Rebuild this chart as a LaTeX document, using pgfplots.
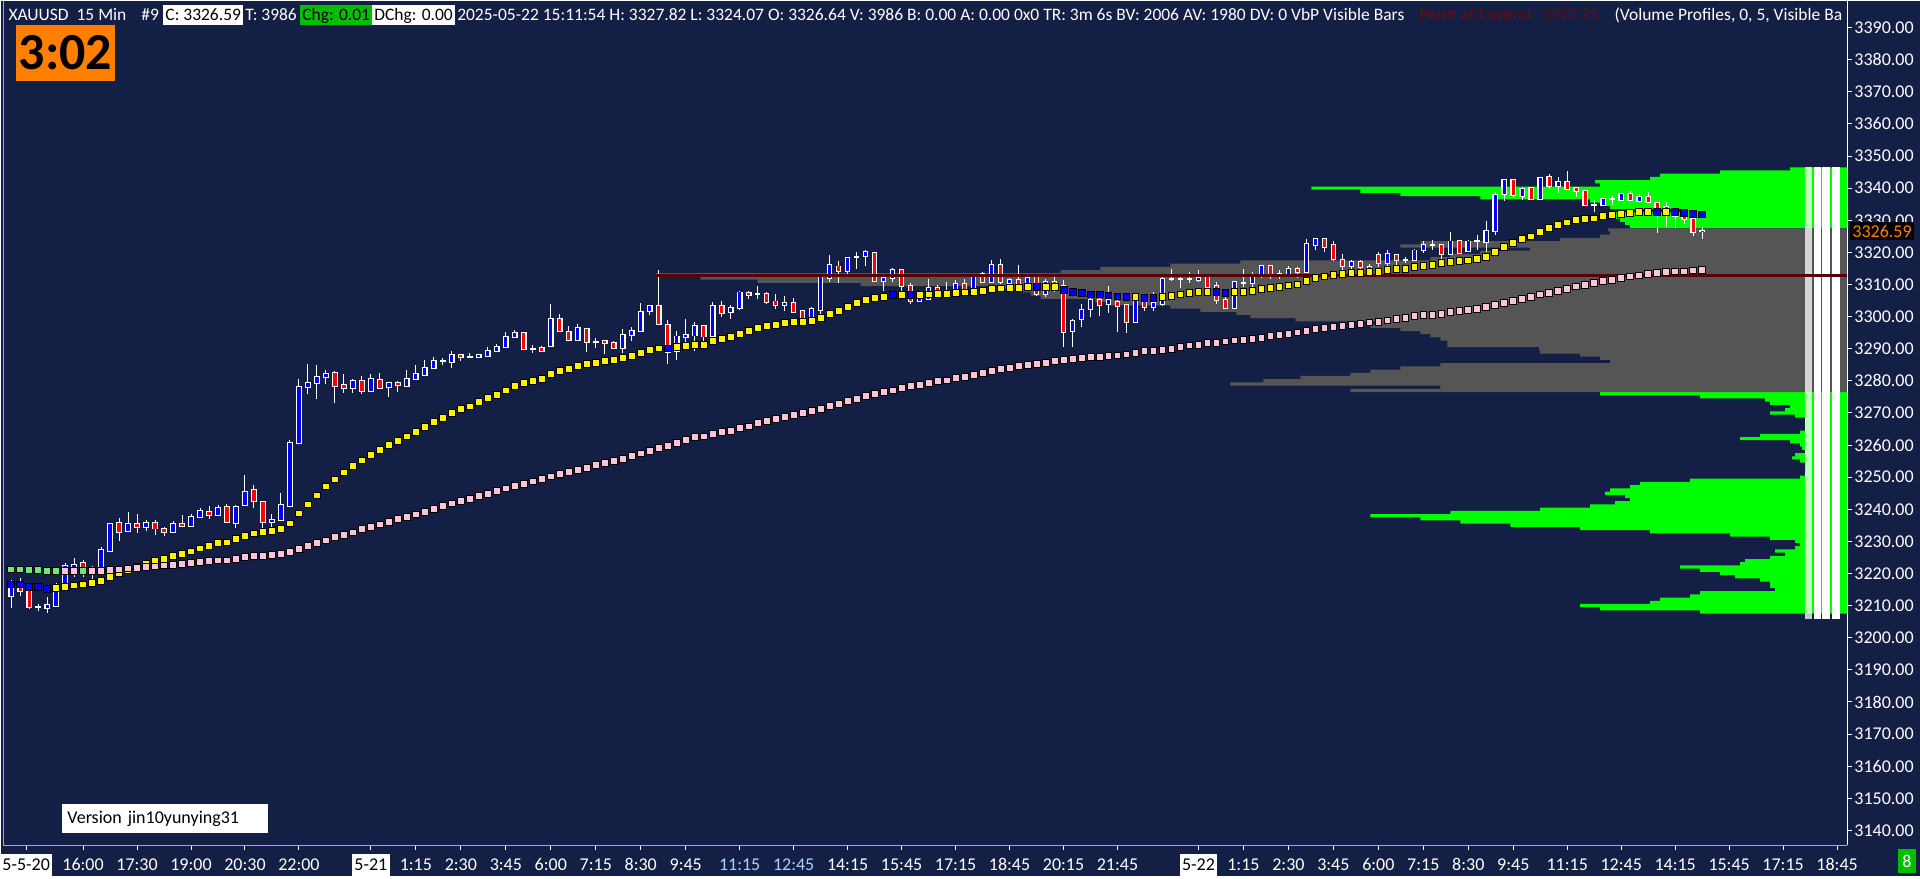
\documentclass[border=0pt]{standalone}
\usepackage{fontspec}
\setmainfont{Carlito}
\usepackage{graphicx}
\usepackage{pgfplots}
\usepackage{pgfplotstable}
\pgfplotsset{compat=1.18}

\definecolor{navy}{RGB}{20,31,69}
\definecolor{vpgreen}{RGB}{0,255,0}
\definecolor{vpgray}{RGB}{85,85,85}
\definecolor{poc}{RGB}{90,0,0}
\definecolor{pocText}{RGB}{100,10,10}
\definecolor{candleblue}{RGB}{0,0,255}
\definecolor{candlered}{RGB}{255,0,0}
\definecolor{mapink}{RGB}{255,195,215}
\definecolor{magreen}{RGB}{110,230,120}
\definecolor{mablue}{RGB}{0,0,235}
\definecolor{tagorange}{RGB}{255,128,0}
\definecolor{chggreen}{RGB}{0,190,0}
\definecolor{axisgray}{RGB}{170,170,170}
\definecolor{lightblue}{RGB}{170,210,255}

% bars: index, open, high, low, close (15 min)
\pgfplotstableread{
i o h l c
0 3213.0 3217.9 3209.3 3217.4
1 3216.3 3218.7 3213.0 3214.6
2 3214.8 3215.0 3208.8 3209.6
3 3209.6 3210.6 3208.3 3209.6
4 3209.3 3212.7 3207.7 3210.1
5 3210.0 3216.9 3210.0 3215.0
6 3214.8 3223.4 3214.6 3222.2
7 3221.8 3224.9 3218.9 3222.6
8 3223.2 3224.1 3218.9 3221.5
9 3221.8 3222.2 3217.9 3221.8
10 3221.8 3228.1 3221.8 3227.4
11 3227.0 3235.7 3227.0 3235.5
12 3235.8 3237.4 3230.1 3233.0
13 3233.3 3239.1 3232.8 3235.5
14 3235.5 3238.4 3232.6 3234.5
15 3234.6 3236.6 3233.2 3235.8
16 3235.8 3236.6 3232.0 3234.0
17 3233.9 3234.5 3231.7 3233.0
18 3232.9 3236.3 3232.6 3235.5
19 3235.5 3238.1 3234.9 3234.9
20 3234.9 3238.4 3234.9 3237.6
21 3237.6 3240.5 3237.3 3239.6
22 3239.2 3240.9 3237.0 3238.3
23 3238.1 3241.3 3237.9 3240.5
24 3240.7 3241.8 3235.7 3236.0
25 3235.8 3241.2 3234.3 3240.7
26 3241.4 3250.6 3241.0 3245.5
27 3246.1 3247.5 3240.5 3242.5
28 3242.3 3242.3 3233.5 3236.0
29 3236.0 3238.6 3234.5 3236.8
30 3236.6 3245.2 3236.6 3241.2
31 3241.0 3261.5 3241.0 3260.7
32 3260.6 3280.7 3260.6 3278.2
33 3278.1 3285.3 3275.8 3279.4
34 3279.3 3284.8 3274.2 3281.3
35 3281.3 3283.5 3278.9 3282.0
36 3282.3 3283.0 3273.1 3278.4
37 3278.8 3282.0 3276.2 3277.9
38 3277.9 3280.6 3276.2 3280.0
39 3280.1 3281.4 3276.0 3276.9
40 3276.9 3282.0 3276.9 3280.7
41 3280.3 3282.4 3277.9 3277.9
42 3278.1 3279.4 3274.9 3279.4
43 3279.4 3280.1 3276.5 3278.6
44 3278.4 3283.3 3278.4 3280.7
45 3280.6 3284.8 3280.3 3282.0
46 3281.9 3286.4 3281.9 3284.1
47 3284.1 3287.4 3284.1 3286.2
48 3286.2 3287.2 3284.8 3286.2
49 3285.8 3289.3 3284.0 3287.9
50 3287.9 3288.2 3286.1 3287.3
51 3287.3 3288.7 3287.3 3287.3
52 3287.3 3288.4 3287.3 3287.9
53 3287.8 3290.5 3287.6 3289.3
54 3289.3 3291.5 3289.0 3290.6
55 3290.5 3295.1 3290.5 3293.8
56 3293.6 3295.7 3293.2 3295.0
57 3295.0 3295.0 3289.9 3289.9
58 3290.0 3291.3 3288.8 3290.0
59 3290.1 3290.7 3289.4 3289.4
60 3290.8 3303.8 3290.8 3299.3
61 3299.3 3300.9 3295.2 3295.5
62 3295.3 3297.1 3292.7 3292.7
63 3292.7 3297.8 3292.7 3296.5
64 3296.2 3296.5 3289.0 3292.1
65 3292.1 3293.2 3290.1 3292.1
66 3292.5 3292.5 3288.4 3291.8
67 3291.9 3292.3 3290.2 3290.2
68 3290.2 3296.0 3288.7 3294.4
69 3294.3 3296.9 3292.4 3295.4
70 3295.5 3304.2 3295.5 3301.5
71 3301.7 3303.5 3300.4 3303.2
72 3303.2 3314.4 3297.3 3297.6
73 3297.3 3298.8 3285.1 3289.0
74 3289.3 3295.4 3286.4 3293.8
75 3293.6 3299.1 3292.1 3294.3
76 3294.1 3298.2 3289.3 3297.1
77 3297.1 3297.1 3292.4 3293.8
78 3294.0 3304.4 3294.0 3303.4
79 3303.4 3304.7 3299.8 3301.1
80 3301.4 3303.5 3299.2 3302.7
81 3302.7 3308.1 3302.1 3307.5
82 3307.5 3308.1 3305.4 3306.8
83 3307.1 3309.4 3305.4 3307.1
84 3307.1 3307.8 3304.0 3304.5
85 3304.7 3306.9 3302.3 3303.7
86 3303.7 3306.3 3301.7 3304.3
87 3304.3 3305.9 3301.1 3301.4
88 3301.6 3302.1 3299.6 3299.6
89 3299.5 3302.9 3299.3 3302.4
90 3302.1 3313.1 3299.6 3312.5
91 3312.1 3319.3 3310.7 3316.2
92 3315.6 3317.2 3310.4 3314.2
93 3314.2 3318.5 3312.3 3318.3
94 3318.5 3320.0 3314.9 3318.5
95 3318.8 3320.6 3315.9 3320.0
96 3319.7 3319.7 3311.0 3311.0
97 3311.0 3313.1 3307.9 3312.1
98 3312.1 3315.1 3310.7 3314.4
99 3314.4 3314.4 3307.6 3309.5
100 3309.6 3310.6 3304.0 3304.8
101 3304.8 3307.6 3304.4 3306.1
102 3305.4 3311.8 3305.4 3308.8
103 3308.8 3310.0 3306.3 3307.6
104 3307.9 3310.9 3306.3 3307.9
105 3307.9 3311.5 3307.9 3310.2
106 3310.2 3311.8 3307.9 3308.1
107 3308.1 3313.3 3308.1 3313.0
108 3313.3 3313.8 3310.4 3310.7
109 3310.7 3317.5 3310.7 3316.1
110 3316.1 3318.0 3310.2 3310.7
111 3310.4 3312.1 3309.7 3311.5
112 3311.5 3316.2 3309.5 3309.6
113 3309.7 3312.3 3309.2 3312.1
114 3312.3 3312.8 3306.3 3307.1
115 3306.9 3311.8 3306.1 3310.9
116 3310.9 3312.3 3307.6 3309.2
117 3309.4 3311.3 3290.5 3295.2
118 3295.5 3299.3 3290.5 3298.5
119 3299.3 3303.8 3296.9 3302.1
120 3302.3 3306.1 3299.8 3305.2
121 3305.2 3306.1 3300.1 3303.5
122 3304.0 3309.4 3301.1 3305.2
123 3304.7 3306.1 3295.2 3303.3
124 3303.5 3304.0 3294.9 3298.3
125 3298.3 3307.3 3298.0 3306.9
126 3304.8 3305.6 3301.9 3302.9
127 3302.9 3307.6 3301.7 3304.2
128 3303.8 3313.1 3303.2 3311.8
129 3311.7 3314.9 3311.1 3311.7
130 3311.7 3313.1 3309.0 3311.7
131 3311.7 3313.8 3310.6 3311.7
132 3311.5 3314.4 3310.7 3312.1
133 3312.3 3313.3 3309.0 3309.2
134 3309.4 3310.7 3303.8 3305.2
135 3305.2 3306.1 3302.7 3302.7
136 3302.7 3311.1 3302.7 3310.7
137 3310.6 3314.9 3309.2 3310.6
138 3310.4 3313.8 3306.6 3312.8
139 3312.8 3316.2 3312.0 3315.8
140 3315.8 3316.2 3311.8 3312.5
141 3312.6 3314.6 3311.8 3313.3
142 3313.3 3315.6 3313.1 3314.9
143 3314.9 3315.4 3312.1 3313.8
144 3313.8 3324.2 3313.8 3322.5
145 3322.4 3324.6 3320.8 3324.2
146 3324.2 3324.6 3320.1 3321.8
147 3322.2 3323.5 3317.3 3318.0
148 3317.7 3319.4 3314.4 3315.9
149 3315.7 3317.5 3314.4 3317.0
150 3317.0 3317.5 3314.4 3315.4
151 3315.6 3316.4 3313.8 3314.8
152 3319.2 3320.1 3315.6 3316.7
153 3316.7 3320.9 3314.9 3319.4
154 3319.2 3319.6 3315.9 3317.7
155 3317.7 3318.7 3316.7 3317.7
156 3317.7 3321.1 3317.5 3320.6
157 3320.8 3323.5 3319.8 3322.2
158 3322.2 3323.9 3320.6 3322.2
159 3322.2 3322.4 3317.0 3319.6
160 3319.6 3326.3 3319.6 3323.4
161 3323.4 3323.9 3319.6 3319.8
162 3320.3 3323.7 3320.1 3323.4
163 3323.4 3325.3 3320.8 3323.4
164 3323.2 3329.7 3320.1 3326.8
165 3326.8 3338.8 3325.3 3337.9
166 3338.2 3342.9 3336.0 3342.6
167 3342.6 3342.9 3337.2 3337.9
168 3337.5 3340.5 3336.4 3339.8
169 3340.1 3340.5 3336.4 3336.7
170 3336.7 3343.4 3336.4 3343.2
171 3343.6 3344.5 3339.8 3340.6
172 3340.6 3343.6 3338.4 3341.9
173 3341.9 3345.3 3339.5 3339.8
174 3340.1 3340.5 3337.4 3339.1
175 3339.1 3339.3 3334.6 3334.8
176 3334.9 3336.2 3332.5 3334.9
177 3334.8 3336.9 3334.6 3336.6
178 3336.5 3337.7 3334.9 3336.5
179 3336.4 3338.4 3336.2 3338.2
180 3338.2 3339.1 3336.2 3336.4
181 3336.0 3338.2 3335.6 3337.2
182 3337.2 3338.8 3335.3 3335.6
183 3335.4 3335.6 3326.0 3333.9
184 3334.0 3335.6 3327.8 3333.6
185 3332.5 3333.6 3327.5 3331.2
186 3331.5 3332.0 3328.7 3330.4
187 3330.4 3331.0 3325.2 3326.2
188 3326.64 3327.82 3324.07 3326.59
}\candles

% moving averages: fast (fb=1 drawn blue), slow (sg=1 drawn green)
\pgfplotstableread{
i f fb s sg
0 3216.6 1 3221.3 1
1 3216.6 1 3221.3 1
2 3215.9 1 3221.0 1
3 3215.8 1 3221.0 1
4 3215.3 1 3220.8 1
5 3215.5 0 3220.8 1
6 3215.8 0 3220.8 0
7 3216.3 0 3220.8 0
8 3216.6 0 3220.8 1
9 3217.1 0 3220.8 0
10 3217.7 0 3220.8 0
11 3218.9 0 3221.0 0
12 3220.0 0 3221.3 0
13 3221.0 0 3221.6 0
14 3222.2 0 3221.8 0
15 3223.1 0 3222.0 0
16 3223.9 0 3222.2 0
17 3224.5 0 3222.5 0
18 3225.4 0 3222.7 0
19 3226.1 0 3223.1 0
20 3226.9 0 3223.4 0
21 3227.8 0 3223.7 0
22 3228.5 0 3223.9 0
23 3229.5 0 3224.1 0
24 3229.7 0 3224.1 0
25 3230.8 0 3224.5 0
26 3231.6 0 3225.1 0
27 3232.5 0 3225.4 0
28 3232.9 0 3225.4 0
29 3233.2 0 3225.7 0
30 3233.8 0 3226.0 0
31 3235.6 0 3226.6 0
32 3238.7 0 3227.6 0
33 3241.5 0 3228.6 0
34 3244.3 0 3229.5 0
35 3247.1 0 3230.3 0
36 3249.3 0 3231.3 0
37 3251.5 0 3232.0 0
38 3253.4 0 3232.8 0
39 3255.2 0 3233.8 0
40 3256.9 0 3234.5 0
41 3258.5 0 3235.3 0
42 3260.0 0 3236.0 0
43 3261.3 0 3236.9 0
44 3262.7 0 3237.6 0
45 3264.1 0 3238.4 0
46 3265.6 0 3239.2 0
47 3267.1 0 3240.0 0
48 3268.4 0 3241.0 0
49 3270.0 0 3241.8 0
50 3271.2 0 3242.6 0
51 3272.0 0 3243.3 0
52 3273.4 0 3244.1 0
53 3274.6 0 3244.9 0
54 3275.6 0 3245.7 0
55 3277.0 0 3246.5 0
56 3278.4 0 3247.3 0
57 3279.3 0 3248.0 0
58 3279.9 0 3248.7 0
59 3280.5 0 3249.4 0
60 3282.1 0 3250.2 0
61 3283.0 0 3250.9 0
62 3283.7 0 3251.6 0
63 3284.6 0 3252.3 0
64 3285.2 0 3253.0 0
65 3285.5 0 3253.7 0
66 3286.1 0 3254.4 0
67 3286.4 0 3255.1 0
68 3287.1 0 3255.8 0
69 3287.7 0 3256.6 0
70 3288.6 0 3257.4 0
71 3289.6 0 3258.2 0
72 3290.1 0 3259.0 0
73 3290.1 1 3259.8 0
74 3290.5 0 3260.6 0
75 3290.8 0 3261.5 0
76 3291.1 0 3262.5 0
77 3291.3 0 3262.7 0
78 3292.5 0 3263.5 0
79 3293.0 0 3264.1 0
80 3293.6 0 3264.4 0
81 3294.6 0 3265.4 0
82 3295.5 0 3265.8 0
83 3296.4 0 3266.9 0
84 3297.0 0 3267.4 0
85 3297.4 0 3268.1 0
86 3298.0 0 3268.7 0
87 3298.3 0 3269.4 0
88 3298.3 0 3270.0 0
89 3298.6 0 3270.6 0
90 3299.5 0 3271.2 0
91 3300.8 0 3272.1 0
92 3301.7 0 3272.9 0
93 3302.9 0 3273.8 0
94 3304.2 0 3274.3 0
95 3305.1 0 3275.3 0
96 3305.8 0 3275.9 0
97 3306.1 0 3276.5 0
98 3306.7 1 3277.0 0
99 3306.8 0 3277.7 0
100 3306.7 1 3278.4 0
101 3306.7 0 3278.7 0
102 3306.9 0 3279.3 0
103 3307.1 0 3279.9 0
104 3307.1 0 3280.1 0
105 3307.4 0 3280.8 0
106 3307.5 0 3281.2 0
107 3307.7 0 3281.8 0
108 3307.9 0 3282.4 0
109 3308.6 0 3283.0 0
110 3308.8 0 3283.6 0
111 3308.9 0 3284.0 0
112 3308.9 0 3284.6 0
113 3309.2 0 3284.9 0
114 3309.2 1 3285.2 0
115 3309.2 0 3285.7 0
116 3309.2 0 3286.1 0
117 3308.4 1 3286.6 0
118 3307.6 1 3286.7 0
119 3307.3 1 3287.1 0
120 3306.9 1 3287.4 0
121 3306.9 1 3287.4 0
122 3306.6 1 3287.7 0
123 3306.3 1 3287.9 0
124 3306.1 1 3288.2 0
125 3306.1 0 3288.8 0
126 3305.8 1 3289.2 0
127 3305.8 1 3289.3 0
128 3306.1 0 3289.7 0
129 3306.4 0 3290.0 0
130 3306.9 0 3290.5 0
131 3307.3 0 3291.0 0
132 3307.6 0 3291.3 0
133 3307.6 0 3291.8 0
134 3307.6 1 3291.9 0
135 3307.3 1 3292.3 0
136 3307.6 0 3292.6 0
137 3307.6 0 3292.8 0
138 3308.1 0 3293.1 0
139 3308.5 0 3293.4 0
140 3308.9 0 3293.9 0
141 3309.2 0 3294.2 0
142 3309.7 0 3294.7 0
143 3310.0 0 3295.1 0
144 3311.0 0 3295.5 0
145 3312.0 0 3296.2 0
146 3312.5 0 3296.5 0
147 3312.9 0 3296.9 0
148 3313.3 0 3297.2 0
149 3313.5 0 3297.5 0
150 3313.5 0 3297.8 0
151 3313.8 0 3298.2 0
152 3313.8 0 3298.3 0
153 3314.6 0 3298.8 0
154 3314.8 0 3299.2 0
155 3314.8 0 3299.6 0
156 3315.4 0 3300.1 0
157 3315.7 0 3300.4 0
158 3316.2 0 3300.6 0
159 3316.6 0 3300.9 0
160 3317.0 0 3301.4 0
161 3317.3 0 3301.7 0
162 3317.5 0 3302.1 0
163 3318.0 0 3302.4 0
164 3318.7 0 3303.0 0
165 3320.1 0 3303.6 0
166 3321.6 0 3304.2 0
167 3322.9 0 3304.8 0
168 3324.2 0 3305.4 0
169 3325.0 0 3306.1 0
170 3326.3 0 3306.9 0
171 3327.5 0 3307.3 0
172 3328.5 0 3307.9 0
173 3329.3 0 3308.7 0
174 3330.1 0 3309.4 0
175 3330.4 0 3309.9 0
176 3330.6 0 3310.4 0
177 3331.3 0 3311.0 0
178 3331.7 0 3311.5 0
179 3332.0 0 3312.1 0
180 3332.3 0 3312.5 0
181 3332.7 0 3312.8 0
182 3332.7 0 3313.3 0
183 3332.7 1 3313.5 0
184 3332.7 0 3313.8 0
185 3332.7 1 3314.1 0
186 3332.3 1 3314.1 0
187 3332.0 1 3314.4 0
188 3331.8 1 3314.6 0
}\mas

% volume profile: price, length of the bar, k=1 inside value area
\pgfplotstableread{
p v k
3208 147 0
3209 247 0
3210 267 0
3211 197 0
3212 187 0
3213 157 0
3214 147 0
3215 72 0
3216 77 0
3217 77 0
3218 87 0
3219 112 0
3220 127 0
3221 147 0
3222 167 0
3223 107 0
3224 102 0
3225 77 0
3226 62 0
3227 72 0
3228 52 0
3229 47 0
3230 52 0
3231 77 0
3232 117 0
3233 197 0
3234 267 0
3235 337 0
3236 387 0
3237 427 0
3238 477 0
3239 397 0
3240 307 0
3241 257 0
3242 232 0
3243 217 0
3244 222 0
3245 242 0
3246 237 0
3247 217 0
3248 207 0
3249 157 0
3250 47 0
3251 42 0
3252 41 0
3253 41 0
3254 41 0
3255 47 0
3256 55 0
3257 52 0
3258 42 0
3259 45 0
3260 47 0
3261 57 0
3262 107 0
3263 87 0
3264 47 0
3265 42 0
3266 42 0
3267 42 0
3268 42 0
3269 52 0
3270 77 0
3271 62 0
3272 57 0
3273 77 0
3274 82 0
3275 147 0
3276 247 0
3277 497 1
3278 407 1
3279 617 1
3280 584 1
3281 547 1
3282 497 1
3283 477 1
3284 447 1
3285 407 1
3286 237 1
3287 247 1
3288 267 1
3289 307 1
3290 308 1
3291 400 1
3292 400 1
3293 407 1
3294 417 1
3295 427 1
3296 447 1
3297 477 1
3298 467 1
3299 552 1
3300 597 1
3301 611 1
3302 647 1
3303 677 1
3304 737 1
3305 752 1
3306 807 1
3307 817 1
3308 827 1
3309 847 1
3310 987 1
3311 1090 1
3312 1147 1
3313 1192 1
3314 787 1
3315 747 1
3316 677 1
3317 607 1
3318 417 1
3319 397 1
3320 367 1
3321 317 1
3322 447 1
3323 427 1
3324 287 1
3325 247 1
3326 237 1
3327 239 1
3328 217 0
3329 222 0
3330 227 0
3331 232 0
3332 237 0
3333 167 0
3334 237 0
3335 247 0
3336 257 0
3337 367 0
3338 447 0
3339 487 0
3340 536 0
3341 247 0
3342 252 0
3343 197 0
3344 187 0
3345 127 0
3346 57 0
}\profile

\newcommand{\dbox}[1]{{\setlength{\fboxsep}{1.2pt}\colorbox{white}{\textcolor{black}{\strut #1}}}}
\newcommand{\tfont}{\fontsize{9}{10}\selectfont}
\newcommand{\hfont}{\fontsize{8.75}{10}\selectfont}

\begin{document}
\begin{tikzpicture}
\fill[navy] (0,0) rectangle (960pt,438pt);

% volume profile, drawn from the right edge
\begin{axis}[at={(1pt,15.5pt)}, anchor=south west, scale only axis,
  width=922.5pt, height=422.5pt, hide axis,
  x dir=reverse, xmin=0, xmax=1845, ymin=3135.41, ymax=3398.40,
  xbar, bar width=1, bar shift=0pt]
\addplot[fill=vpgreen, draw=none] table[x expr={\thisrow{k}==0 ? \thisrow{v} : 0}, y=p] {\profile};
\addplot[fill=vpgray, draw=none] table[x expr={\thisrow{k}==1 ? \thisrow{v} : 0}, y=p] {\profile};
\fill[white, opacity=0.75] (axis cs:42,3205.8) rectangle (axis cs:35,3346.6);
\fill[white] (axis cs:33,3205.8) rectangle (axis cs:26,3346.6);
\fill[white] (axis cs:25,3205.8) rectangle (axis cs:17,3346.6);
\fill[white] (axis cs:15,3205.8) rectangle (axis cs:7,3346.6);
\end{axis}

\begin{axis}[at={(1pt,15.5pt)}, anchor=south west, scale only axis,
  width=922.5pt, height=422.5pt,
  xmin=-0.889, xmax=204.11, ymin=3135.41, ymax=3398.40,
  axis x line*=bottom, axis y line*=right, axis line style={-},
  x axis line style={axisgray}, y axis line style={white},
  tick align=outside, major tick length=2.5pt,
  tick style={white, line width=0.5pt},
  ytick={3140,3150,...,3390},
  yticklabel={\pgfmathprintnumber[fixed,fixed zerofill,precision=2,1000 sep={},assume math mode=true]{\tick}},
  yticklabel style={font=\tfont, text=white, inner sep=1pt},
  xtick={1.67,8,14,20,26,32,40,45,50,55,60,65,70,75,81,87,93,99,105,111,117,123,132,137,142,147,152,157,162,167,173,179,185,191,197,203},
  xticklabels={\dbox{5-5-20},16:00,17:30,19:00,20:30,22:00,\dbox{5-21},1:15,2:30,3:45,6:00,7:15,8:30,9:45,\textcolor{lightblue}{11:15},\textcolor{lightblue}{12:45},14:15,15:45,17:15,18:45,20:15,21:45,\dbox{5-22},1:15,2:30,3:45,6:00,7:15,8:30,9:45,11:15,12:45,14:15,15:45,17:15,18:45},
  xticklabel style={font=\tfont, text=white, anchor=base, yshift=-10pt, inner sep=0pt}]

% candle wicks
\addplot[draw=none, forget plot, error bars/.cd, y dir=both, y explicit, error mark=none,
  error bar style={draw=white, line width=0.5pt}]
  table[x=i, y expr={(\thisrow{h}+\thisrow{l})/2}, y error expr={(\thisrow{h}-\thisrow{l})/2}] {\candles};
% body outline
\addplot[draw=none, forget plot, error bars/.cd, y dir=both, y explicit, error mark=none,
  error bar style={draw=white, line width=2.8pt}]
  table[x=i, y expr={(\thisrow{o}+\thisrow{c})/2}, y error expr={abs(\thisrow{c}-\thisrow{o})/2+0.3}] {\candles};
% rising bodies
\addplot[draw=none, forget plot, error bars/.cd, y dir=both, y explicit, error mark=none,
  error bar style={draw=candleblue, line width=1.6pt}]
  table[x=i, y expr={\thisrow{c}>=\thisrow{o} ? (\thisrow{o}+\thisrow{c})/2 : 5000}, y error expr={abs(\thisrow{c}-\thisrow{o})/2}] {\candles};
% falling bodies
\addplot[draw=none, forget plot, error bars/.cd, y dir=both, y explicit, error mark=none,
  error bar style={draw=candlered, line width=1.6pt}]
  table[x=i, y expr={\thisrow{c}<\thisrow{o} ? (\thisrow{o}+\thisrow{c})/2 : 5000}, y error expr={abs(\thisrow{c}-\thisrow{o})/2}] {\candles};

% point of control
\addplot[poc, line width=1.5pt] coordinates {(71.6,3312.75) (204.2,3312.75)};

% moving averages
\addplot[only marks, mark=square*, mark size=1.7pt, mark options={draw=none, fill=yellow}]
  table[x=i, y expr={\thisrow{fb}==0 ? \thisrow{f} : 5000}] {\mas};
\addplot[only marks, mark=square*, mark size=1.7pt, mark options={draw=none, fill=mablue}]
  table[x=i, y expr={\thisrow{fb}==1 ? \thisrow{f} : 5000}] {\mas};
\addplot[only marks, mark=square*, mark size=1.7pt, mark options={draw=none, fill=mapink}]
  table[x=i, y expr={\thisrow{sg}==0 ? \thisrow{s} : 5000}] {\mas};
\addplot[only marks, mark=square*, mark size=1.7pt, mark options={draw=none, fill=magreen}]
  table[x=i, y expr={\thisrow{sg}==1 ? \thisrow{s} : 5000}] {\mas};

\coordinate (tag) at (axis cs:204.11,3326.59);
\end{axis}

\node[fill=black, text=tagorange, font=\tfont, inner xsep=1pt, inner ysep=1.5pt, anchor=west] at ([xshift=1.5pt]tag) {3326.59};
\draw[axisgray, line width=0.6pt] (1pt,15.5pt) -- (1pt,438pt);

% header and labels, positioned in pixels from the top left
\begin{scope}[x=0.5pt, y=-0.5pt, shift={(0pt,438pt)}, font=\hfont]
\node[anchor=base west, text=white, inner sep=0pt] at (7,20) {XAUUSD\ \ 15 Min};
\node[anchor=base west, text=white, inner sep=0pt] at (140,20) {\#9};
\node[anchor=base west, fill=white, text=black, inner xsep=1pt, inner ysep=2pt, text height=5.8pt, text depth=0.4pt] at (162,20) {C: 3326.59};
\node[anchor=base west, text=white, inner sep=0pt] at (244,20) {T: 3986};
\node[anchor=base west, fill=chggreen, text=black, inner xsep=1pt, inner ysep=2pt, text height=5.8pt, text depth=0.4pt] at (299,20) {Chg: 0.01};
\node[anchor=base west, fill=white, text=black, inner xsep=1pt, inner ysep=2pt, text height=5.8pt, text depth=0.4pt] at (371,20) {DChg: 0.00};
\node[anchor=base west, text=white, inner sep=0pt] at (456,20) {2025-05-22 15:11:54 H: 3327.82 L: 3324.07 O: 3326.64 V: 3986 B: 0.00 A: 0.00 0x0 TR: 3m 6s BV: 2006 AV: 1980 DV: 0 VbP Visible Bars};
\node[anchor=base west, text=pocText, inner sep=0pt] at (1419,20) {Point of Control: 3312.75};
\node[anchor=base west, text=white, inner sep=0pt] at (1614,20) {(Volume Profiles, 0, 5, Visible Ba};
\node[fill=tagorange, text=black, minimum width=49.5pt, minimum height=28pt, inner sep=0pt,
  font=\bfseries\fontsize{26}{26}\selectfont] at (64.5,52) {3:02};
\node[fill=white, text=black, anchor=west, text width=98pt, inner xsep=2.5pt, minimum height=14.5pt, font=\tfont] at (61,818.5) {Version jin10yunying31};
\node[fill=chggreen, text=white, minimum width=9pt, minimum height=12pt, inner sep=0pt, font=\tfont] at (1907,861) {8};
\end{scope}
\end{tikzpicture}
\end{document}
